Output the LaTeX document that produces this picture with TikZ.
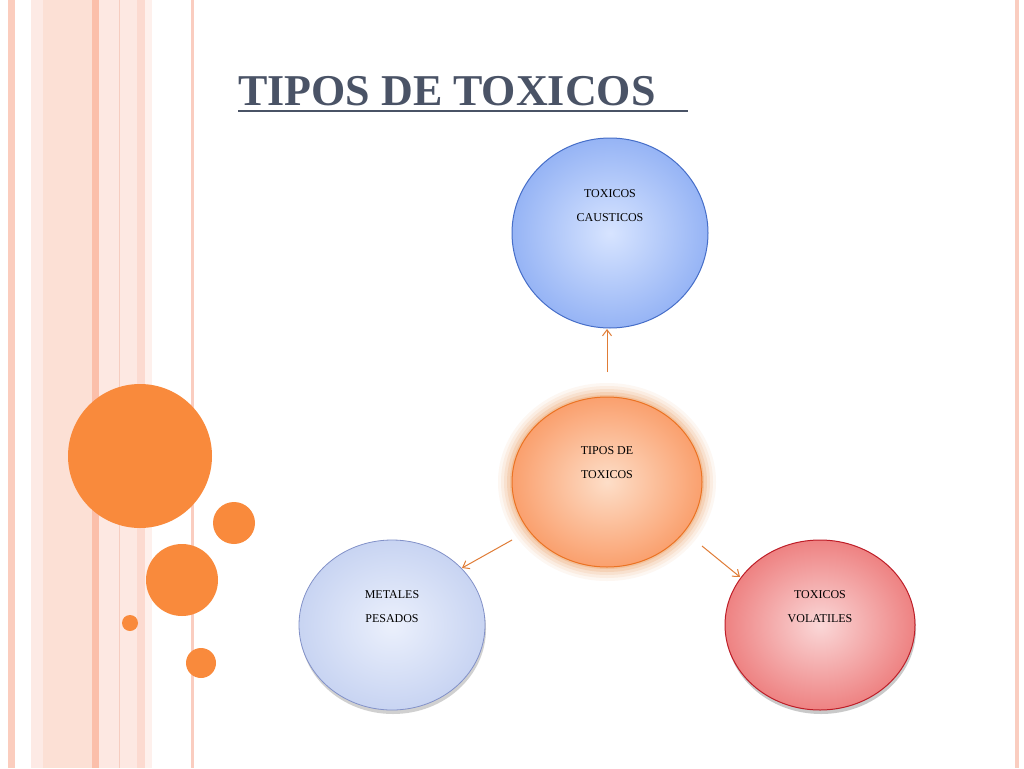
\documentclass[tikz,border=0pt]{standalone}
\usepackage{fontspec}
\setmainfont{Liberation Serif}
\usetikzlibrary{arrows.meta}
\definecolor{dk}{HTML}{4A5366}
\definecolor{orn}{HTML}{F98A3C}
\definecolor{s1}{RGB}{251,205,190}
\definecolor{s2}{RGB}{253,234,229}
\definecolor{s3}{RGB}{252,224,213}
\definecolor{s4}{RGB}{251,191,170}
\definecolor{s5}{RGB}{253,232,226}
\definecolor{s6}{RGB}{246,205,192}
\definecolor{s7}{RGB}{252,218,208}
\definecolor{s8}{RGB}{254,240,236}
\definecolor{s9}{RGB}{250,205,192}
\definecolor{bin}{RGB}{215,228,255}
\definecolor{bout}{RGB}{150,180,245}
\definecolor{bdr}{RGB}{70,110,200}
\definecolor{glow}{RGB}{230,120,40}
\definecolor{oin}{RGB}{253,222,200}
\definecolor{oout}{RGB}{250,160,110}
\definecolor{odr}{RGB}{235,115,35}
\definecolor{lin}{RGB}{235,240,252}
\definecolor{lout}{RGB}{200,212,242}
\definecolor{ldr}{RGB}{130,145,200}
\definecolor{rin}{RGB}{250,215,215}
\definecolor{rout}{RGB}{238,130,130}
\definecolor{rdr}{RGB}{190,30,40}
\begin{document}
\begin{tikzpicture}[x=1pt,y=-1pt,
 lab/.style={font=\fontsize{12}{24}\selectfont, align=center, text=black},
 arr/.style={draw=orn!90!black, line width=1pt, -{Straight Barb[length=6pt,width=9pt]}},
 deco/.style={fill=orn}]
\useasboundingbox (0,0) rectangle (1024,768);
\fill[white] (0,0) rectangle (1024,768);
% stripes
\fill[s1] (8,0) rectangle (15,768);
\fill[s2] (31,0) rectangle (43,768);
\fill[s3] (43,0) rectangle (92,768);
\fill[s4] (92,0) rectangle (99,768);
\fill[s5] (99,0) rectangle (137,768);
\fill[s6] (119,0) rectangle (120,768);
\fill[s7] (137,0) rectangle (145,768);
\fill[s8] (145,0) rectangle (152,768);
\fill[s9] (191,0) rectangle (194,768);
\fill[s9] (1015,0) rectangle (1019,768);
% deco circles
\fill[deco] (140,456) circle (72);
\fill[deco] (234,523) circle (21);
\fill[deco] (182,580) circle (36);
\fill[deco] (130,623) circle (8);
\fill[deco] (201,663) circle (15);
% title
\node[anchor=base west, text=dk, font=\bfseries\fontsize{44}{44}\selectfont, inner sep=0] (title) at (238,105) {TIPOS DE TOXICOS};
\draw[dk, line width=1.5pt] (238,111) -- (688,111);
% top circle
\shade[inner color=bin, outer color=bout] (610,233) ellipse (98 and 95);
\draw[bdr, line width=1pt] (610,233) ellipse (98 and 95);
\node[lab] (caus) at (610,206) {TOXICOS\\CAUSTICOS};
% center glow
\foreach \r/\o in {14/0.06,11/0.08,8/0.1,5/0.14,2/0.2}
 \fill[glow, opacity=\o] (607,482) ellipse ({95+\r} and {85+\r});
\shade[inner color=oin, outer color=oout] (607,482) ellipse (95 and 85);
\draw[odr, line width=1pt] (607,482) ellipse (95 and 85);
\node[lab] (tipos) at (607,463) {TIPOS DE\\TOXICOS};
% bottom-left
\fill[gray!60, opacity=0.6] (393,629) ellipse (93 and 85);
\shade[inner color=lin, outer color=lout] (392,625) ellipse (93 and 85);
\draw[ldr, line width=0.8pt] (392,625) ellipse (93 and 85);
\node[lab] (met) at (392,607) {METALES\\PESADOS};
% bottom-right
\fill[gray!70, opacity=0.6] (821,629) ellipse (95 and 85);
\shade[inner color=rin, outer color=rout] (820,625) ellipse (95 and 85);
\draw[rdr, line width=1pt] (820,625) ellipse (95 and 85);
\node[lab] (vol) at (820,607) {TOXICOS\\VOLATILES};
% arrows
\coordinate (a1) at (607,372); \coordinate (b1) at (607,329);
\coordinate (a2) at (512,540); \coordinate (b2) at (462,568);
\coordinate (a3) at (702,546); \coordinate (b3) at (740,577);
\draw[arr] (a1) -- (b1);
\draw[arr] (a2) -- (b2);
\draw[arr] (a3) -- (b3);
\end{tikzpicture}
\end{document}
